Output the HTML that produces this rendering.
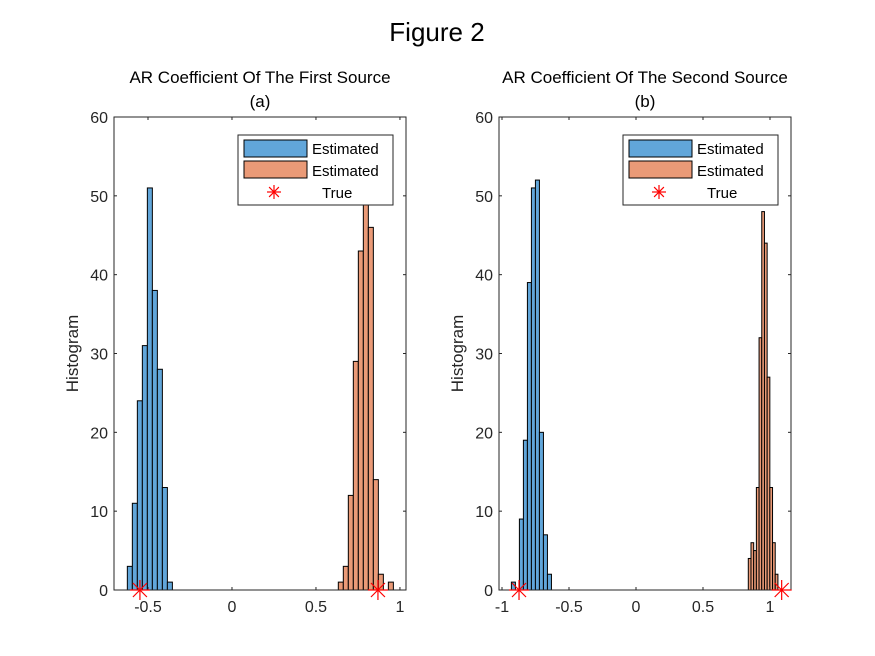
<!DOCTYPE html>
<html><head><meta charset="utf-8"><style>
body{margin:0;background:#fff;}
svg{display:block;font-family:"Liberation Sans",Arial,sans-serif;}
</style></head><body>
<svg id="fig" width="875" height="656" viewBox="0 0 875 656">
<rect width="875" height="656" fill="#fff"/>
<text x="437" y="41" text-anchor="middle" font-size="26" fill="#000">Figure 2</text>
</svg>
<script>
// ---- Panel (a) data ----
const aBlueStart = -0.623, aBlueWidth = 0.0298;
const aBlueCounts = [3, 11, 24, 31, 51, 38, 28, 13, 1];
const aOrangeStart = 0.633, aOrangeWidth = 0.0298;
const aOrangeCounts = [1, 3, 12, 29, 43, 50, 46, 14, 2, 0, 1];
const aTrue = [-0.548, 0.869];
const aXTicks = [-0.5, 0, 0.5, 1];
const aXTickLabels = ["-0.5", "0", "0.5", "1"];
// ---- Panel (b) data ----
const bBlueStart = -0.93, bBlueWidth = 0.0299;
const bBlueCounts = [1, 0, 9, 19, 39, 51, 52, 20, 7, 2];
const bOrangeStart = 0.838, bOrangeWidth = 0.0201;
const bOrangeCounts = [4, 6, 5, 13, 32, 48, 44, 27, 13, 6, 2];
const bTrue = [-0.873, 1.087];
const bXTicks = [-1, -0.5, 0, 0.5, 1];
const bXTickLabels = ["-1", "-0.5", "0", "0.5", "1"];
// ---- shared ----
const yTicks = [0, 10, 20, 30, 40, 50, 60];
const yTickLabels = ["0", "10", "20", "30", "40", "50", "60"];

const NS = "http://www.w3.org/2000/svg";
const svg = document.getElementById("fig");
function mk(tag, attrs, parent) {
  const e = document.createElementNS(NS, tag);
  for (const k in attrs) e.setAttribute(k, attrs[k]);
  (parent || svg).appendChild(e);
  return e;
}
function panel(p) {
  const g = mk("g", {});
  
  
  const sx = v => p.x0 + (v - p.xmin) / (p.xmax - p.xmin) * (p.x1 - p.x0);
  const sy = v => p.y0 - v / 60 * (p.y0 - p.y1);
  function bars(start, w, counts, fill, nm) {
    counts.forEach((c, i) => {
      if (c <= 0) return;
      const xa = sx(start + i * w), xb = sx(start + (i + 1) * w);
      const r = mk("rect", {x: xa, y: sy(c), width: xb - xa, height: sy(0) - sy(c), fill: fill, stroke: "#000", "stroke-width": 1}, g);
      
      
    });
  }
  bars(p.bs, p.bw, p.bc, "#61a6da", "blue");
  bars(p.os, p.ow, p.oc, "#ea9a77", "orange");
  // axes box
  const box = mk("rect", {x: p.x0, y: p.y1, width: p.x1 - p.x0, height: p.y0 - p.y1, fill: "none", stroke: "#262626", "stroke-width": 1}, g);
  
  
  p.xt.forEach((t, i) => {
    const x = sx(t);
    mk("line", {x1: x, x2: x, y1: p.y0, y2: p.y0 - 3, stroke: "#262626"}, g);
    mk("line", {x1: x, x2: x, y1: p.y1, y2: p.y1 + 3, stroke: "#262626"}, g);
    const tx = mk("text", {x: x, y: p.y0 + 22, "text-anchor": "middle", "font-size": 16, fill: "#262626"}, g);
    tx.textContent = p.xl[i];
    
    
  });
  yTicks.forEach((t, i) => {
    const y = sy(t);
    mk("line", {x1: p.x0, x2: p.x0 + 3, y1: y, y2: y, stroke: "#262626"}, g);
    mk("line", {x1: p.x1, x2: p.x1 - 3, y1: y, y2: y, stroke: "#262626"}, g);
    const ty = mk("text", {x: p.x0 - 6, y: y + 6, "text-anchor": "end", "font-size": 16, fill: "#262626"}, g);
    ty.textContent = yTickLabels[i];
    
    
  });
  function star(x, y, s, parent) {
    const sg = mk("g", {stroke: "#ff0000", "stroke-width": 1.2}, parent);
    mk("line", {x1: x - s, x2: x + s, y1: y, y2: y}, sg);
    mk("line", {x1: x, x2: x, y1: y - s, y2: y + s}, sg);
    mk("line", {x1: x - s * .7, x2: x + s * .7, y1: y - s * .7, y2: y + s * .7}, sg);
    mk("line", {x1: x - s * .7, x2: x + s * .7, y1: y + s * .7, y2: y - s * .7}, sg);
    return sg;
  }
  p.tr.forEach(v => {
    const s = star(sx(v), sy(0), 10, g);
    
    
  });
  const ylab = mk("text", {x: 0, y: 0, transform: `translate(${p.x0 - 36},${(p.y0 + p.y1) / 2}) rotate(-90)`, "text-anchor": "middle", "font-size": 17, fill: "#262626"}, g);
  ylab.textContent = "Histogram";
  
  
  const cx = (p.x0 + p.x1) / 2;
  const t1 = mk("text", {x: cx, y: 83, "text-anchor": "middle", "font-size": 17, fill: "#000"}, g);
  t1.textContent = p.title;
  
  
  const t2 = mk("text", {x: cx, y: 107, "text-anchor": "middle", "font-size": 17, fill: "#000"}, g);
  t2.textContent = p.sub;
  
  
  // legend
  const lg = mk("g", {}, g);
  
  
  const lx = p.lx;
  mk("rect", {x: lx, y: 135, width: 155, height: 70, fill: "#fff", stroke: "#262626", "stroke-width": 1}, lg);
  mk("rect", {x: lx + 6, y: 140, width: 63, height: 17, fill: "#61a6da", stroke: "#000"}, lg);
  mk("rect", {x: lx + 6, y: 161, width: 63, height: 17, fill: "#ea9a77", stroke: "#000"}, lg);
  star(lx + 36, 192, 7, lg);
  [["Estimated", 154], ["Estimated", 176], ["True", 198]].forEach((e, i) => {
    const t = mk("text", {x: i == 2 ? lx + 74 + 10 : lx + 74, y: e[1], "font-size": 15, fill: "#000"}, lg);
    t.textContent = e[0];
    
    
  });
}
panel({name: "panel-a", x0: 114, x1: 406, y0: 590, y1: 117, xmin: -0.7024, xmax: 1.036,
  bs: aBlueStart, bw: aBlueWidth, bc: aBlueCounts, os: aOrangeStart, ow: aOrangeWidth, oc: aOrangeCounts,
  tr: aTrue, xt: aXTicks, xl: aXTickLabels, lx: 238,
  title: "AR Coefficient Of The First Source", sub: "(a)"});
panel({name: "panel-b", x0: 499, x1: 791, y0: 590, y1: 117, xmin: -1.0224, xmax: 1.1567,
  bs: bBlueStart, bw: bBlueWidth, bc: bBlueCounts, os: bOrangeStart, ow: bOrangeWidth, oc: bOrangeCounts,
  tr: bTrue, xt: bXTicks, xl: bXTickLabels, lx: 623,
  title: "AR Coefficient Of The Second Source", sub: "(b)"});
</script>
</body></html>
